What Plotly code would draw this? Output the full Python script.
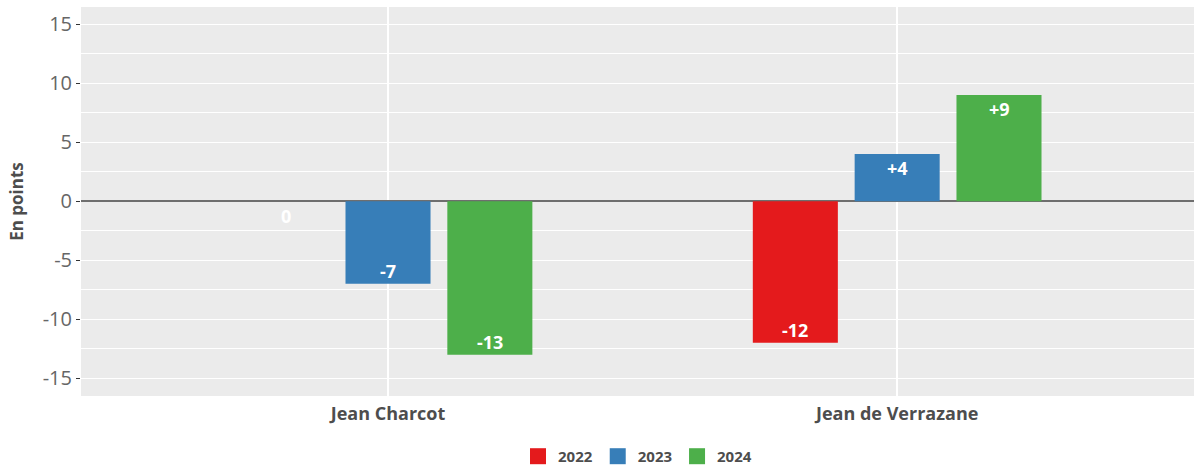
import plotly.graph_objects as go

categories = ["Jean Charcot", "Jean de Verrazane"]
years = ["2022", "2023", "2024"]
values_2022 = [0, -12]
values_2023 = [-7, 4]
values_2024 = [-13, 9]
colors = ["#E41A1C", "#377EB8", "#4DAF4A"]

series = [values_2022, values_2023, values_2024]
slot = 0.2
bar_w = 0.167

fig = go.Figure()
for j, (yr, vals, col) in enumerate(zip(years, series, colors)):
    xs = [i + (j - 1) * slot for i in range(len(categories))]
    fig.add_trace(go.Bar(
        x=xs, y=vals, width=bar_w, name=yr,
        marker=dict(color=col, line=dict(width=0)),
        hoverinfo="skip", showlegend=False,
    ))
    # legend entry with larger swatch
    fig.add_trace(go.Scatter(
        x=[None], y=[None], mode="markers", name=yr,
        marker=dict(symbol="square", size=22, color=col),
        hoverinfo="skip",
    ))
    for x, v in zip(xs, vals):
        fig.add_annotation(
            x=x, y=v, xref="x", yref="y",
            text=("+" if v > 0 else "") + str(v),
            showarrow=False, xanchor="center", yanchor="middle",
            yshift=12.5 if v < 0 else -14.5,
            font=dict(color="white", size=18, family="Open Sans", weight="bold"),
        )

fig.update_layout(
    width=1194, height=469,
    margin=dict(l=81, r=0, t=7, b=73, autoexpand=False),
    paper_bgcolor="white", plot_bgcolor="#EBEBEB",
    font=dict(family="Open Sans", color="#4D4D4D"),
    barmode="overlay",
    legend=dict(orientation="h", x=0.5, xanchor="center", y=-0.113, yanchor="top",
                font=dict(size=15, color="#4D4D4D", weight="bold"),
                itemsizing="trace", traceorder="normal"),
    xaxis=dict(
        range=[-0.603, 1.583], tickvals=[0, 1], ticktext=categories,
        showgrid=True, gridcolor="white", gridwidth=1.5, zeroline=False,
        tickfont=dict(size=18, color="#4D4D4D", weight="bold"), ticks="",
        ticklabelstandoff=5, showline=False, automargin=False,
    ),
    yaxis=dict(
        range=[-16.5, 16.45], tickvals=[-15, -10, -5, 0, 5, 10, 15],
        ticktext=["-15", "-10", "-5", "0", "5", "10", "15"],
        showgrid=True, gridcolor="white", gridwidth=1.3,
        minor=dict(dtick=2.5, tick0=0, showgrid=True, gridcolor="white", gridwidth=1),
        zeroline=True, zerolinecolor="#6E6E6E", zerolinewidth=1.5,
        ticks="outside", ticklen=4, tickcolor="#333333",
        tickfont=dict(size=20, color="#666666"), automargin=False,
        title=dict(text="En points", font=dict(size=17, color="#4D4D4D", weight="bold"), standoff=14),
    ),
)

fig.write_html("out.html", config={"responsive": False, "displayModeBar": False},
               post_script="document.body.style.margin='0';document.body.style.overflow='hidden';")
